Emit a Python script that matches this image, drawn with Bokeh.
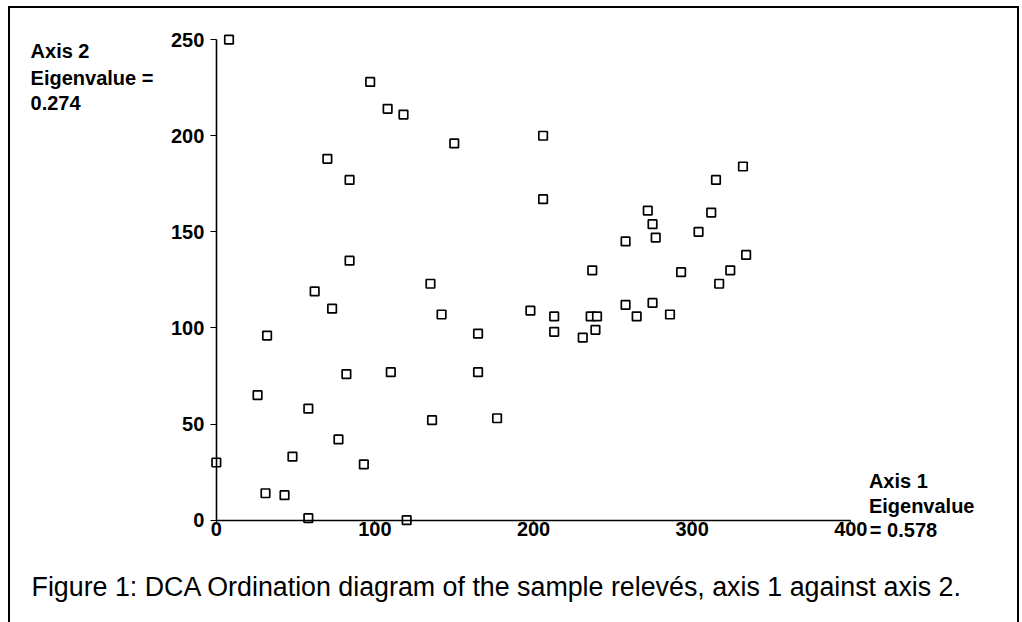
from bokeh.plotting import figure
from bokeh.models import Range1d, LinearAxis, FixedTicker, Label
from bokeh.embed import file_html
from bokeh.resources import INLINE

# DCA scores (axis 1, axis 2)
axis1 = [8, 97, 108, 118, 70, 84, 84, 150, 206, 206, 332, 315, 272, 312, 275, 277,
         258, 304, 334, 324, 237, 293, 135, 317, 142, 165, 198, 213, 213, 231, 236,
         240, 239, 258, 265, 275, 286, 165, 136, 177, 120, 62, 73, 32, 82, 110, 26,
         58, 77, 48, 93, 0, 31, 43, 58]
axis2 = [250, 228, 214, 211, 188, 177, 135, 196, 200, 167, 184, 177, 161, 160, 154, 147,
         145, 150, 138, 130, 130, 129, 123, 123, 107, 97, 109, 106, 98, 95, 106,
         106, 99, 112, 106, 113, 107, 77, 52, 53, 0, 119, 110, 96, 76, 77, 65,
         58, 42, 33, 29, 30, 14, 13, 1]

x_ticks = [0, 100, 200, 300, 400]
y_ticks = [0, 50, 100, 150, 200, 250]

axis2_label = ["Axis 2", "Eigenvalue =", "0.274"]
axis1_label = ["Axis 1", "Eigenvalue", "= 0.578"]
caption = "Figure 1: DCA Ordination diagram of the sample relevés, axis 1 against axis 2."

FONT = "Liberation Sans"

p = figure(width=1011, height=616, output_backend="svg", toolbar_location=None,
           x_range=Range1d(-129.75, 507.6), y_range=Range1d(-54.3, 266.2),
           x_axis_type=None, y_axis_type=None,
           min_border=0, min_border_left=0, min_border_right=0,
           min_border_top=0, min_border_bottom=0,
           background_fill_color="white", border_fill_color="white")
p.outline_line_color = None
p.grid.visible = False
p.styles = {"border-top": "2px solid black", "border-left": "2px solid black",
            "border-right": "2px solid black", "margin-left": "8px", "margin-top": "6px"}

xa = LinearAxis(fixed_location=0, bounds=(0, 400), ticker=FixedTicker(ticks=x_ticks))
ya = LinearAxis(fixed_location=0, bounds=(0, 250), ticker=FixedTicker(ticks=y_ticks))
for ax in (xa, ya):
    ax.axis_line_color = "black"
    ax.axis_line_width = 1.6
    ax.major_tick_line_color = "black"
    ax.major_tick_line_width = 1.2
    ax.major_tick_in = 0
    ax.minor_tick_line_color = None
    ax.major_label_text_font = FONT
    ax.major_label_text_font_size = "20px"
    ax.major_label_text_font_style = "bold"
    ax.major_label_text_color = "black"
xa.major_tick_out = 2
xa.major_label_standoff = 0
ya.major_tick_out = 6
ya.major_label_standoff = 6
p.add_layout(xa, "below")
p.add_layout(ya, "left")

p.scatter(axis1, axis2, marker="square", size=8.5, fill_color="white",
          line_color="black", line_width=1.7)

def add_label(x, y, text, size="20px", style="bold"):
    p.add_layout(Label(x=x, y=y, text=text, text_font=FONT, text_font_size=size,
                       text_font_style=style, text_color="black",
                       text_baseline="alphabetic", text_align="left"))

axis2_y = [244.3, 230.2, 217.1]
for t, yy in zip(axis2_label, axis2_y):
    add_label(-117.1, yy, t)
axis1_x = [411.4, 411.4, 412.0]
axis1_y = [20.4, 7.2, -5.0]
for t, xx, yy in zip(axis1_label, axis1_x, axis1_y):
    add_label(xx, yy, t)
add_label(-116.5, -35.0, caption, size="26.8px", style="normal")

open("out.html", "w").write(file_html(p, INLINE))
